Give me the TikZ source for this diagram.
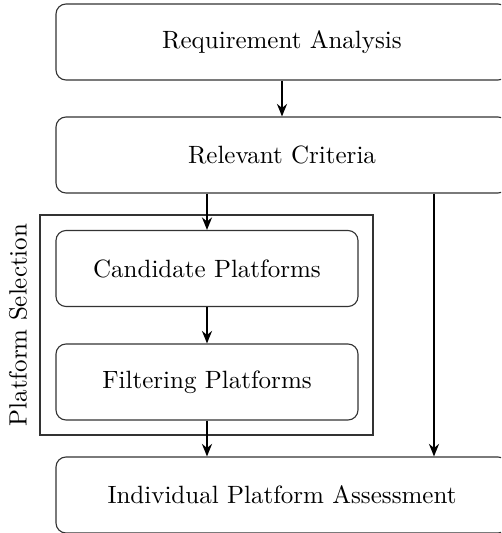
\documentclass[tikz,border=0pt]{standalone}
\usetikzlibrary{arrows.meta,positioning}
\begin{document}
\begin{tikzpicture}[x=0.4pt,y=-0.4pt,
  stage/.style={draw=black!80, line width=0.45pt, rounded corners=4pt, minimum height=30.4pt, inner sep=0pt, align=center},
  wide/.style={stage, minimum width=180.8pt},
  narrow/.style={stage, minimum width=120.8pt},
  frame/.style={draw=black!80, line width=0.45pt},
  flow/.style={-{Stealth[length=5pt,width=4pt]}, line width=0.8pt}]
\clip (0,0) rectangle (501,533);
\node[wide] (req) at (282,42) {Requirement Analysis};
\node[wide] (rel) at (282,155) {Relevant Criteria};
\node[narrow] (cand) at (207,268.5) {Candidate Platforms};
\node[narrow] (filt) at (207,382) {Filtering Platforms};
\node[wide] (ind) at (282,495) {Individual Platform Assessment};
\draw[frame] (40,215) rectangle (373,435);
\node[rotate=90] (lab) at (18,325) {Platform Selection};
\coordinate (rx) at (434,0);
\draw[flow] (req) -- (rel);
\draw[flow] (rel.south -| cand) -- (cand);
\draw[flow] (cand) -- (filt);
\draw[flow] (filt) -- (filt |- ind.north);
\draw[flow] (rel.south -| rx) -- (ind.north -| rx);
\end{tikzpicture}
\end{document}
